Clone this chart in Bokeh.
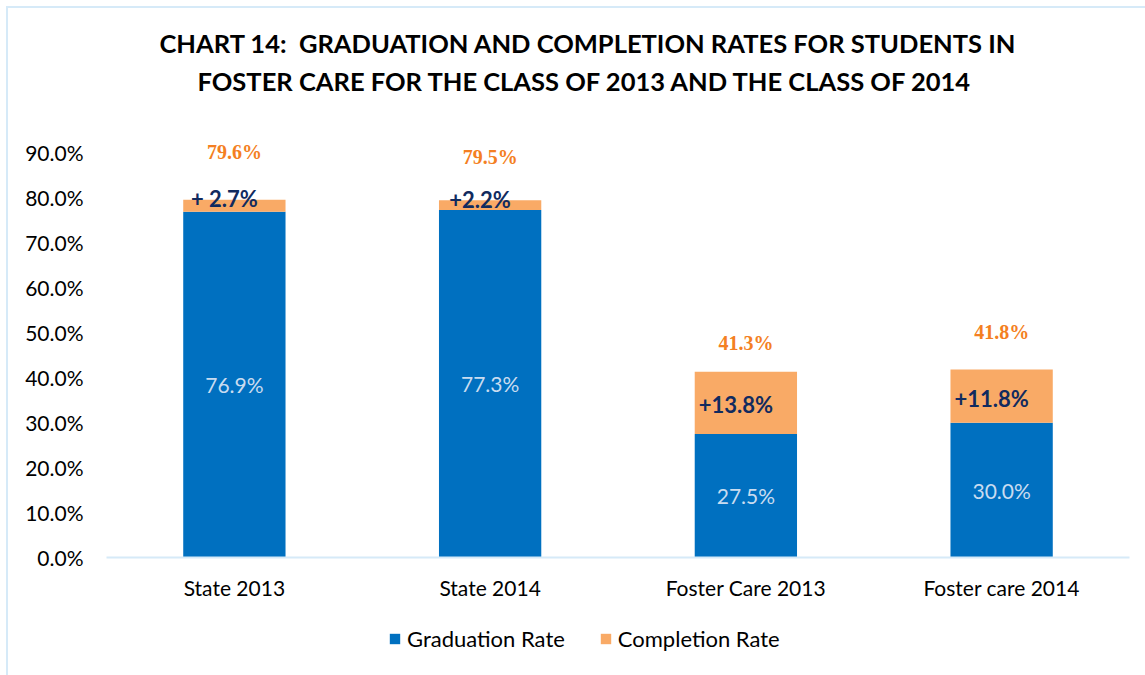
from bokeh.plotting import figure
from bokeh.models import (ColumnDataSource, LabelSet, Legend, LegendItem, Title,
                          FixedTicker, Range1d, FactorRange)
from bokeh.layouts import column
from bokeh.core.properties import value
from bokeh.embed import file_html
from bokeh.resources import INLINE

# ---------------- data ----------------
categories = ["State 2013", "State 2014", "Foster Care 2013", "Foster care 2014"]
graduation_rate = [76.9, 77.3, 27.5, 30.0]
completion_added = [2.7, 2.2, 13.8, 11.8]
completion_total = [79.6, 79.5, 41.3, 41.8]
graduation_labels = ["76.9%", "77.3%", "27.5%", "30.0%"]
completion_labels = ["+ 2.7%", "+2.2%", "+13.8%", "+11.8%"]
total_labels = ["79.6%", "79.5%", "41.3%", "41.8%"]
y_ticks = [0, 10, 20, 30, 40, 50, 60, 70, 80, 90]
y_tick_labels = ["0.0%", "10.0%", "20.0%", "30.0%", "40.0%", "50.0%",
                 "60.0%", "70.0%", "80.0%", "90.0%"]
title_lines = ["CHART 14:\u00a0 GRADUATION AND COMPLETION RATES FOR STUDENTS IN",
               "FOSTER CARE FOR THE CLASS OF 2013 AND THE CLASS OF 2014"]

# label placement (style)
total_label_offsets = [48, 43, 29, 38]
completion_label_offsets = [7, 6, -2, -2]

BLUE = "#0070C0"
ORANGE = "#F9AA66"
NAVY = "#112B5F"
ORANGE_TXT = "#F47F22"
LIGHT_TXT = "#C9DCF0"
BORDER = "#D6EAF8"
FONT = "Lato"

src = ColumnDataSource(dict(
    cat=categories,
    grad=graduation_rate,
    add=completion_added,
    total=completion_total,
    grad_mid=[g / 2 for g in graduation_rate],
    add_mid=[g + a / 2 for g, a in zip(graduation_rate, completion_added)],
    grad_lbl=graduation_labels,
    add_lbl=completion_labels,
    tot_lbl=total_labels,
    tot_off=total_label_offsets,
    add_off=completion_label_offsets,
))

W = 1137
H_MAIN = 607
H_LEG = 60

x_range = FactorRange(*categories)
p = figure(x_range=x_range, y_range=Range1d(0, 93),
           width=W, height=H_MAIN, output_backend="svg", toolbar_location=None,
           min_border_left=98, min_border_right=16, min_border_top=131,
           min_border_bottom=58)
p.outline_line_color = None
p.xgrid.grid_line_color = None
p.ygrid.grid_line_color = None

p.vbar(x="cat", top="grad", bottom=0, width=0.4, source=src,
       fill_color=BLUE, line_color=None)
p.vbar(x="cat", top="total", bottom="grad", width=0.4, source=src,
       fill_color=ORANGE, line_color=None)

# axes
p.yaxis.ticker = FixedTicker(ticks=y_ticks)
p.yaxis.major_label_overrides = {t: l for t, l in zip(y_ticks, y_tick_labels)}
p.yaxis.axis_line_color = None
p.yaxis.major_tick_line_color = None
p.yaxis.minor_tick_line_color = None
p.yaxis.major_label_text_font = FONT
p.yaxis.major_label_text_font_size = "21px"
p.yaxis.major_label_text_color = "#000000"
p.yaxis.major_label_standoff = 17

p.xaxis.axis_line_color = BORDER
p.xaxis.axis_line_width = 2
p.xaxis.major_tick_line_color = None
p.xaxis.minor_tick_line_color = None
p.xaxis.major_label_text_font = FONT
p.xaxis.major_label_text_font_size = "21px"
p.xaxis.major_label_text_color = "#000000"
p.xaxis.major_label_standoff = 11

# value labels
p.add_layout(LabelSet(x="cat", y="grad_mid", text="grad_lbl", source=src,
                      text_align="center", text_baseline="middle",
                      text_font=value(FONT), text_font_size="21px",
                      text_color=LIGHT_TXT))
p.add_layout(LabelSet(x="cat", y="add_mid", text="add_lbl", source=src,
                      x_offset=-10, y_offset="add_off",
                      text_align="center", text_baseline="middle",
                      text_font=value(FONT), text_font_size="22px",
                      text_font_style="bold", text_color=NAVY))
p.add_layout(LabelSet(x="cat", y="total", text="tot_lbl", source=src,
                      y_offset="tot_off",
                      text_align="center", text_baseline="middle",
                      text_font=value("Liberation Serif"), text_font_size="20px",
                      text_font_style="bold", text_color=ORANGE_TXT))

# title: a thin spacer panel next to the plot, then the two title lines
p.add_layout(Title(text=" ", text_font_size="10px", standoff=28), "above")
p.add_layout(Title(text=title_lines[1], align="left", offset=91,
                   text_font=FONT, text_font_size="25.5px", text_font_style="bold",
                   text_color="#000000", standoff=6), "above")
p.add_layout(Title(text=title_lines[0], align="left", offset=53,
                   text_font=FONT, text_font_size="25.5px", text_font_style="bold",
                   text_color="#000000", standoff=6), "above")

# legend in its own strip below the chart
lg = figure(x_range=x_range, y_range=Range1d(500, 501), width=W, height=H_LEG,
            output_backend="svg", toolbar_location=None,
            min_border=0, min_border_left=0, min_border_right=0,
            min_border_top=0, min_border_bottom=0)
lg.axis.visible = False
lg.grid.visible = False
lg.outline_line_color = None
lr_grad = lg.vbar(x="cat", top="grad", bottom=0, width=0.4, source=src,
                  fill_color=BLUE, line_color=None)
lr_comp = lg.vbar(x="cat", top="total", bottom="grad", width=0.4, source=src,
                  fill_color=ORANGE, line_color=None)
legend = Legend(items=[LegendItem(label="Graduation Rate", renderers=[lr_grad]),
                       LegendItem(label="Completion Rate", renderers=[lr_comp])],
                orientation="horizontal", location=(282, 23),
                label_text_font=FONT, label_text_font_size="22px",
                label_text_color="#000000",
                glyph_width=13, glyph_height=13, label_standoff=6,
                spacing=34, border_line_color=None, background_fill_alpha=0,
                margin=0, padding=0)
lg.add_layout(legend, "center")

layout = column(p, lg, spacing=0,
                styles={"border-left": "2px solid " + BORDER,
                        "border-top": "2px solid " + BORDER,
                        "margin-left": "6px", "margin-top": "6px"})

open("out.html", "w").write(file_html(layout, INLINE))
